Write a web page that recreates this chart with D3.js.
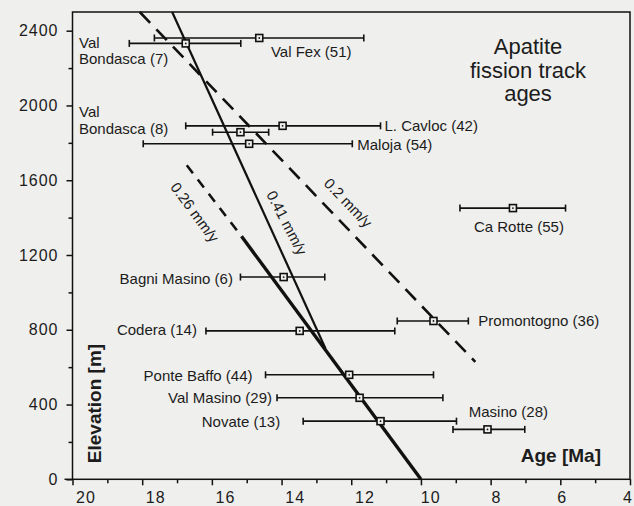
<!DOCTYPE html>
<html>
<head>
<meta charset="utf-8">
<script src="https://cdn.jsdelivr.net/npm/d3@7"></script>
<style>
  body { margin: 0; background: #efefed; }
  svg { display: block; font-family: "Liberation Sans", Arial, sans-serif; }
  text { fill: #1c1c1c; }
</style>
</head>
<body>
<script>
// sample data
var sampleNames = ["Val Bondasca (7)", "Val Fex (51)", "L. Cavloc (42)", "Val Bondasca (8)", "Maloja (54)",
                   "Ca Rotte (55)", "Bagni Masino (6)", "Promontogno (36)", "Codera (14)", "Ponte Baffo (44)",
                   "Val Masino (29)", "Novate (13)", "Masino (28)"];
var sampleAge  = [16.75, 14.64, 13.97, 15.18, 14.93, 7.36, 13.94, 9.64, 13.48, 12.06, 11.76, 11.16, 8.09];
var sampleElev = [2332, 2361, 1891, 1857, 1795, 1451, 1082, 847, 794, 559, 436, 311, 267];
var ageOld     = [18.37, 17.65, 16.75, 15.98, 17.97, 8.88, 15.18, 10.68, 16.17, 14.46, 14.13, 13.38, 9.08];
var ageYoung   = [15.17, 11.64, 11.16, 14.37, 11.97, 5.85, 12.76, 8.64, 10.75, 9.64, 9.37, 8.98, 7.02];

// exhumation rate lines
var rate02Age  = [18.07, 8.44],  rate02Elev  = [2500, 628];
var rate026DashAge = [16.72, 15.15], rate026DashElev = [1680, 1300];
var rate026Age = [15.15, 10.0],  rate026Elev = [1300, 0];
var rate041Age = [17.14, 12.74], rate041Elev = [2500, 700];

var xTicks = [20, 18, 16, 14, 12, 10, 8, 6, 4];
var xMinor = [19, 17, 15, 13, 11, 9, 7, 5];
var yTicks = [0, 400, 800, 1200, 1600, 2000, 2400];
var yMinor = [200, 600, 1000, 1400, 1800, 2200];

var width = 634, height = 506;

var x = d3.scaleLinear().domain([20, 4]).range([72.5, 630]);
var y = d3.scaleLinear().domain([0, 2500]).range([479.3, 12]);
// the printed tick numbers sit a bit off their ticks
var xLabel = d3.scaleLinear().domain([20, 12, 4]).range([85, 364, 627]);

var svg = d3.select("body").append("svg")
    .attr("width", width)
    .attr("height", height);

svg.append("rect")
    .attr("width", width).attr("height", height)
    .attr("fill", "#efefed");

// frame
svg.append("rect")
    .attr("x", x(20)).attr("y", y(2500))
    .attr("width", x(4) - x(20)).attr("height", y(0) - y(2500))
    .attr("fill", "none").attr("stroke", "#111").attr("stroke-width", 1.5);

svg.append("line")
    .attr("x1", x(20) - 8).attr("x2", x(20))
    .attr("y1", y(0)).attr("y2", y(0))
    .attr("stroke", "#111").attr("stroke-width", 1.5);

// axes
var yAxis = d3.axisLeft(y).tickValues(yTicks).tickSize(6).tickPadding(6).tickFormat(d3.format("d"));
var yAxisMinor = d3.axisLeft(y).tickValues(yMinor).tickSize(4).tickFormat("");
var xAxis = d3.axisBottom(x).tickValues(xTicks).tickSize(6).tickFormat(d3.format("d"));
var xAxisMinor = d3.axisBottom(x).tickValues(xMinor).tickSize(4).tickFormat("");

function styleAxis(g) {
  g.select(".domain").remove();
  g.selectAll(".tick line").attr("stroke", "#111").attr("stroke-width", 1.5);
  g.selectAll(".tick text")
    .attr("font-size", 16)
    .attr("font-family", "Liberation Sans, Arial, sans-serif")
    .style("letter-spacing", "1px")
    .attr("fill", "#1c1c1c");
}

svg.append("g").attr("transform", "translate(" + x(20) + ",0)").call(yAxis).call(styleAxis)
   .selectAll(".tick text").attr("dx", "-2px");
svg.append("g").attr("transform", "translate(" + x(20) + ",0)").call(yAxisMinor).call(styleAxis);

var gx = svg.append("g").attr("transform", "translate(0," + y(0) + ")").call(xAxis).call(styleAxis);
gx.selectAll(".tick text")
    .attr("dx", function(d) { return (xLabel(d) - x(d) + 0.5) + "px"; })
    .attr("y", 23.5).attr("dy", 0);
svg.append("g").attr("transform", "translate(0," + y(0) + ")").call(xAxisMinor).call(styleAxis);

// axis titles
svg.append("text")
    .attr("transform", "translate(100.5," + 403.5 + ") rotate(-90)")
    .attr("text-anchor", "middle")
    .attr("font-size", 19).attr("font-weight", "bold")
    .text("Elevation [m]");

svg.append("text")
    .attr("x", 601).attr("y", 461.5)
    .attr("text-anchor", "end")
    .attr("font-size", 19).attr("font-weight", "bold")
    .text("Age [Ma]");

// title
var title = svg.append("text")
    .attr("text-anchor", "middle")
    .attr("font-size", 22);
["Apatite", "fission track", "ages"].forEach(function(t, i) {
  title.append("tspan").attr("x", 528).attr("y", 54 + i * 23.5).text(t);
});

// rate lines
var line = d3.line().x(function(d) { return x(d[0]); }).y(function(d) { return y(d[1]); });
function pts(a, e) { return a.map(function(v, i) { return [v, e[i]]; }); }

svg.append("path").datum(pts(rate02Age, rate02Elev))
    .attr("d", line).attr("fill", "none")
    .attr("stroke", "#111").attr("stroke-width", 2.6).attr("stroke-dasharray", "15,9");
svg.append("path").datum(pts(rate026DashAge, rate026DashElev))
    .attr("d", line).attr("fill", "none")
    .attr("stroke", "#111").attr("stroke-width", 2.6).attr("stroke-dasharray", "10,8");
svg.append("path").datum(pts(rate026Age, rate026Elev))
    .attr("d", line).attr("fill", "none")
    .attr("stroke", "#111").attr("stroke-width", 3.4);
svg.append("path").datum(pts(rate041Age, rate041Elev))
    .attr("d", line).attr("fill", "none")
    .attr("stroke", "#111").attr("stroke-width", 2.2);

// rate labels, rotated along their lines
function angleOf(a, e) {
  return Math.atan2(y(e[1]) - y(e[0]), x(a[1]) - x(a[0])) * 180 / Math.PI;
}
var rateLabels = [
  {text: "0.2 mm/y",  age: 12.09, elev: 1479, ang: angleOf(rate02Age, rate02Elev)},
  {text: "0.26 mm/y", age: 16.49, elev: 1428, ang: angleOf(rate026Age, rate026Elev)},
  {text: "0.41 mm/y", age: 13.85, elev: 1372, ang: angleOf(rate041Age, rate041Elev) - 3}
];
svg.selectAll(".rate-label").data(rateLabels).enter().append("text")
    .attr("class", "rate-label")
    .attr("transform", function(d) { return "translate(" + x(d.age) + "," + y(d.elev) + ") rotate(" + d.ang + ")"; })
    .attr("text-anchor", "middle").attr("dy", "0.35em")
    .attr("font-size", 15)
    .text(function(d) { return d.text; });

// error bars and points
var samples = sampleNames.map(function(n, i) {
  return {name: n, age: sampleAge[i], elev: sampleElev[i], old: ageOld[i], young: ageYoung[i]};
});

var g = svg.selectAll(".sample").data(samples).enter().append("g").attr("class", "sample");
g.append("line")
    .attr("x1", function(d) { return x(d.old); }).attr("x2", function(d) { return x(d.young); })
    .attr("y1", function(d) { return y(d.elev); }).attr("y2", function(d) { return y(d.elev); })
    .attr("stroke", "#111").attr("stroke-width", 1.6);
g.append("line")
    .attr("x1", function(d) { return x(d.old); }).attr("x2", function(d) { return x(d.old); })
    .attr("y1", function(d) { return y(d.elev) - 3.5; }).attr("y2", function(d) { return y(d.elev) + 3.5; })
    .attr("stroke", "#111").attr("stroke-width", 1.6);
g.append("line")
    .attr("x1", function(d) { return x(d.young); }).attr("x2", function(d) { return x(d.young); })
    .attr("y1", function(d) { return y(d.elev) - 3.5; }).attr("y2", function(d) { return y(d.elev) + 3.5; })
    .attr("stroke", "#111").attr("stroke-width", 1.6);
g.append("rect")
    .attr("x", function(d) { return x(d.age) - 3.5; }).attr("y", function(d) { return y(d.elev) - 3.5; })
    .attr("width", 7).attr("height", 7)
    .attr("fill", "#efefed").attr("stroke", "#111").attr("stroke-width", 1.6);
g.append("circle")
    .attr("cx", function(d) { return x(d.age); }).attr("cy", function(d) { return y(d.elev); })
    .attr("r", 0.9).attr("fill", "#111");

// sample labels: where each one sits relative to its bar
var placement = {
  "Val Bondasca (7)":  {ref: "frame", dx: 6.5,  dy: 4.6,  anchor: "start", split: true, lead: 16},
  "Val Fex (51)":      {ref: "age",   dx: 11.7, dy: 18.7, anchor: "start"},
  "L. Cavloc (42)":    {ref: "young", dx: 4,    dy: 5,    anchor: "start"},
  "Val Bondasca (8)":  {ref: "frame", dx: 6.5,  dy: -15,  anchor: "start", split: true, lead: 16.6},
  "Maloja (54)":       {ref: "young", dx: 5,    dy: 6,    anchor: "start"},
  "Ca Rotte (55)":     {ref: "age",   dx: 6,    dy: 24,   anchor: "middle"},
  "Bagni Masino (6)":  {ref: "old",   dx: -7.5, dy: 6.6,  anchor: "end"},
  "Promontogno (36)":  {ref: "young", dx: 10,   dy: 5.3,  anchor: "start"},
  "Codera (14)":       {ref: "old",   dx: -9,   dy: 4.6,  anchor: "end"},
  "Ponte Baffo (44)":  {ref: "old",   dx: -13,  dy: 6.2,  anchor: "end"},
  "Val Masino (29)":   {ref: "old",   dx: -5,   dy: 5.6,  anchor: "end"},
  "Novate (13)":       {ref: "old",   dx: -23,  dy: 5.7,  anchor: "end"},
  "Masino (28)":       {ref: "age",   dx: -18.7, dy: -12.6, anchor: "start"}
};

samples.forEach(function(d) {
  var p = placement[d.name];
  var bx = p.ref === "frame" ? x(20) : x(d[p.ref]);
  var t = svg.append("text")
      .attr("font-size", 15)
      .attr("text-anchor", p.anchor);
  if (p.split) {
    var parts = d.name.split(" ");
    t.append("tspan").attr("x", bx + p.dx).attr("y", y(d.elev) + p.dy).text(parts[0]);
    t.append("tspan").attr("x", bx + p.dx).attr("y", y(d.elev) + p.dy + p.lead).text(parts.slice(1).join(" "));
  } else {
    t.attr("x", bx + p.dx).attr("y", y(d.elev) + p.dy).text(d.name);
  }
});
</script>
</body>
</html>
